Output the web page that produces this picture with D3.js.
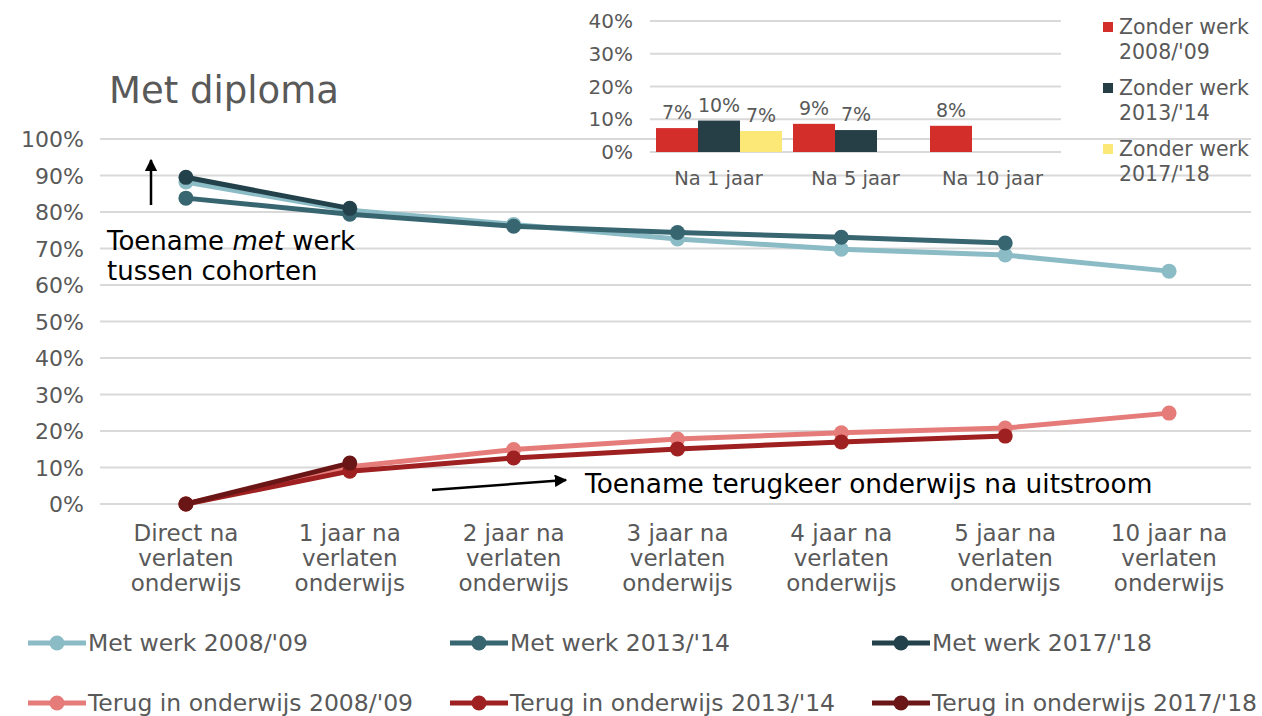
<!DOCTYPE html>
<html>
<head>
<meta charset="utf-8">
<script src="https://cdn.jsdelivr.net/npm/d3@7"></script>
<style>
  body { margin: 0; background: #fff; }
  text { font-family: "DejaVu Sans", sans-serif; }
</style>
</head>
<body>
<div id="container"></div>
<script>
let w = 1262;
let h = 716;

// main chart data
let categories = ["Direct na|verlaten|onderwijs", "1 jaar na|verlaten|onderwijs", "2 jaar na|verlaten|onderwijs",
  "3 jaar na|verlaten|onderwijs", "4 jaar na|verlaten|onderwijs", "5 jaar na|verlaten|onderwijs", "10 jaar na|verlaten|onderwijs"];
let yTicks = [0, 10, 20, 30, 40, 50, 60, 70, 80, 90, 100];
let seriesNames = ["Met werk 2008/'09", "Met werk 2013/'14", "Met werk 2017/'18",
  "Terug in onderwijs 2008/'09", "Terug in onderwijs 2013/'14", "Terug in onderwijs 2017/'18"];
let metWerk0809 = [88.2, 80.5, 76.6, 72.6, 69.8, 68.2, 63.8];
let metWerk1314 = [83.8, 79.4, 76.1, 74.4, 73.1, 71.5];
let metWerk1718 = [89.5, 81.0];
let terug0809 = [0, 10.2, 14.9, 17.8, 19.5, 20.8, 24.9];
let terug1314 = [0, 9.0, 12.6, 15.1, 17.0, 18.6];
let terug1718 = [0, 11.2];
let seriesColors = ["#8bbcc6", "#376570", "#23414a", "#e57c7a", "#9e2020", "#6b1616"];

// inset bar chart data
let barCats = ["Na 1 jaar", "Na 5 jaar", "Na 10 jaar"];
let barSeries = ["Zonder werk|2008/'09", "Zonder werk|2013/'14", "Zonder werk|2017/'18"];
let zonder0809 = [7.3, 8.6, 8.0];
let zonder1314 = [9.6, 6.7, null];
let zonder1718 = [6.4, null, null];
let barLabels0809 = ["7%", "9%", "8%"];
let barLabels1314 = ["10%", "7%", null];
let barLabels1718 = ["7%", null, null];
let barTicks = [0, 10, 20, 30, 40];
let barColors = ["#d42e2b", "#263f47", "#fbe877"];

let svg = d3.select("#container").append("svg")
  .attr("width", w).attr("height", h);

let grey = "#595959";
let gridColor = "#d9d9d9";

// ---- main chart ----
let x = d3.scaleBand().domain(d3.range(categories.length)).range([104, 1251]);
let y = d3.scaleLinear().domain([0, 100]).range([504, 139]);

svg.append("g").selectAll("line").data(yTicks).enter().append("line")
  .attr("x1", 100).attr("x2", 1251)
  .attr("y1", d => y(d)).attr("y2", d => y(d))
  .attr("stroke", gridColor).attr("stroke-width", 2);

svg.append("g").selectAll("text").data(yTicks).enter().append("text")
  .attr("x", 84).attr("y", d => y(d) + 8)
  .attr("text-anchor", "end").attr("font-size", 22).attr("fill", grey)
  .text(d => d + "%");

let xl = svg.append("g").selectAll("text").data(categories).enter().append("text")
  .attr("text-anchor", "middle").attr("font-size", 23).attr("fill", grey)
  .attr("transform", (d, i) => "translate(" + (x(i) + x.bandwidth() / 2) + ",541)");
xl.selectAll("tspan").data(d => d.split("|")).enter().append("tspan")
  .attr("x", 0).attr("dy", (d, i) => i == 0 ? 0 : 25)
  .text(d => d);

let allSeries = [metWerk0809, metWerk1314, metWerk1718, terug0809, terug1314, terug1718];
let line = d3.line().x((d, i) => x(i) + x.bandwidth() / 2).y(d => y(d));

allSeries.forEach(function(vals, s) {
  let g = svg.append("g");
  g.append("path").datum(vals)
    .attr("d", line).attr("fill", "none")
    .attr("stroke", seriesColors[s]).attr("stroke-width", 5)
    .attr("stroke-linejoin", "round");
  g.selectAll("circle").data(vals).enter().append("circle")
    .attr("cx", (d, i) => x(i) + x.bandwidth() / 2)
    .attr("cy", d => y(d))
    .attr("r", 7.5).attr("fill", seriesColors[s]);
});

// title
svg.append("text").attr("x", 109).attr("y", 103)
  .attr("font-size", 37).attr("fill", grey).text("Met diploma");

// annotations
svg.append("defs").append("marker")
  .attr("id", "arr").attr("viewBox", "0 0 10 10").attr("refX", 9).attr("refY", 5)
  .attr("markerWidth", 5).attr("markerHeight", 5).attr("orient", "auto")
  .append("path").attr("d", "M0,0 L10,5 L0,10 z").attr("fill", "#000");

svg.append("line").attr("x1", 151).attr("y1", 205).attr("x2", 151).attr("y2", 160)
  .attr("stroke", "#000").attr("stroke-width", 2.5).attr("marker-end", "url(#arr)");
let t1 = svg.append("text").attr("x", 107).attr("y", 250).attr("font-size", 26).attr("fill", "#000");
t1.append("tspan").text("Toename ");
t1.append("tspan").attr("font-style", "italic").text("met");
t1.append("tspan").text(" werk");
svg.append("text").attr("x", 107).attr("y", 280).attr("font-size", 26).attr("fill", "#000")
  .text("tussen cohorten");

svg.append("line").attr("x1", 432).attr("y1", 490).attr("x2", 566).attr("y2", 480)
  .attr("stroke", "#000").attr("stroke-width", 2.5).attr("marker-end", "url(#arr)");
svg.append("text").attr("x", 585).attr("y", 493).attr("font-size", 26.4).attr("fill", "#000")
  .text("Toename terugkeer onderwijs na uitstroom");

// bottom legend
let legPos = [[28, 643], [450, 643], [872, 643], [28, 703], [450, 703], [872, 703]];
seriesNames.forEach(function(name, i) {
  let g = svg.append("g").attr("transform", "translate(" + legPos[i][0] + "," + legPos[i][1] + ")");
  g.append("line").attr("x1", 0).attr("x2", 58).attr("stroke", seriesColors[i]).attr("stroke-width", 5);
  g.append("circle").attr("cx", 29).attr("r", 7.5).attr("fill", seriesColors[i]);
  g.append("text").attr("x", 60).attr("y", 7.5).attr("font-size", 23.5).attr("fill", grey).text(name);
});

// ---- inset bar chart ----
let bx = d3.scaleBand().domain(barCats).range([650, 1061]);
let bxInner = d3.scaleBand().domain(d3.range(3)).range([6, 132]);
let by = d3.scaleLinear().domain([0, 40]).range([152, 21]);

svg.append("g").selectAll("line").data(barTicks).enter().append("line")
  .attr("x1", 650).attr("x2", 1061)
  .attr("y1", d => by(d)).attr("y2", d => by(d))
  .attr("stroke", gridColor).attr("stroke-width", 2);
svg.append("g").selectAll("text").data(barTicks).enter().append("text")
  .attr("x", 633).attr("y", d => by(d) + 7)
  .attr("text-anchor", "end").attr("font-size", 20).attr("fill", grey)
  .text(d => d + "%");
svg.append("g").selectAll("text").data(barCats).enter().append("text")
  .attr("x", d => bx(d) + bx.bandwidth() / 2).attr("y", 185)
  .attr("text-anchor", "middle").attr("font-size", 19.5).attr("fill", grey)
  .text(d => d);

let barVals = [zonder0809, zonder1314, zonder1718];
let barLbls = [barLabels0809, barLabels1314, barLabels1718];
barVals.forEach(function(vals, s) {
  vals.forEach(function(v, c) {
    if (v == null) return;
    let bxPos = bx(barCats[c]) + bxInner(s);
    svg.append("rect").attr("x", bxPos).attr("y", by(v))
      .attr("width", bxInner.bandwidth()).attr("height", by(0) - by(v))
      .attr("fill", barColors[s]);
    svg.append("text").attr("x", bxPos + bxInner.bandwidth() / 2).attr("y", by(v) - 9)
      .attr("text-anchor", "middle").attr("font-size", 19).attr("fill", grey)
      .text(barLbls[s][c]);
  });
});

// inset legend
let insetLegY = [22, 83, 144];
barSeries.forEach(function(name, i) {
  let g = svg.append("g").attr("transform", "translate(1103," + insetLegY[i] + ")");
  g.append("rect").attr("width", 10).attr("height", 10).attr("fill", barColors[i]);
  let lines = name.split("|");
  lines.forEach(function(l, j) {
    g.append("text").attr("x", 16).attr("y", 12 + j * 24.5)
      .attr("font-size", 20.5).attr("fill", grey).text(l);
  });
});
</script>
</body>
</html>
